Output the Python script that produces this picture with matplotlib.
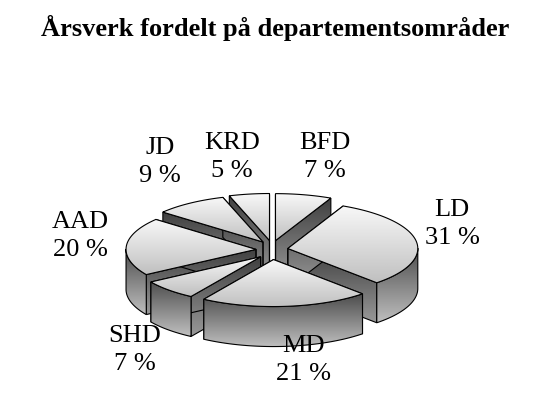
import numpy as np
import matplotlib
matplotlib.use("Agg")
import matplotlib.pyplot as plt
from matplotlib.patches import Polygon

labels = ["BFD", "LD", "MD", "SHD", "AAD", "JD", "KRD"]
values = [7, 31, 21, 7, 20, 9, 5]
label_pos = [(325, 157), (452, 224), (303, 360), (135, 350), (80, 236), (160, 162), (232, 157)]

fig = plt.figure(figsize=(5.5, 4.03), dpi=100)
ax = fig.add_axes([0, 0, 1, 1])
ax.set_xlim(0, 550); ax.set_ylim(403, 0); ax.axis("off")

cx, cy, rx, ry, depth, expl = 272, 250, 130, 47, 40, 16
tot = sum(values)
grad = np.linspace(0, 1, 256)[None, :]

def fill_grad(poly, cmap_lo, cmap_hi, horizontal=True, z=1):
    p = Polygon(poly, closed=True, facecolor="none", edgecolor="black", lw=0.8, zorder=z + 0.1)
    ax.add_patch(p)
    xs, ys = poly[:, 0], poly[:, 1]
    g = grad if horizontal else grad.T
    vals = cmap_lo + (cmap_hi - cmap_lo) * g
    im = ax.imshow(vals, cmap="gray", vmin=0, vmax=1, extent=(xs.min(), xs.max(), ys.max(), ys.min()),
                   aspect="auto", zorder=z, interpolation="bilinear")
    im.set_clip_path(p)

wedges = []
start = 90.0
for v in values:
    sweep = 360.0 * v / tot
    a0, a1 = start - sweep, start
    start = a0
    mid = np.radians((a0 + a1) / 2)
    ox, oy = cx + expl * np.cos(mid), cy - expl * 0.6 * np.sin(mid)
    wedges.append((a0, a1, ox, oy, np.sin(mid)))

order = sorted(range(len(values)), key=lambda i: wedges[i][4], reverse=True)
for k, i in enumerate(order):
    a0, a1, ox, oy, _ = wedges[i]
    t = np.radians(np.linspace(a0, a1, 60))
    arc = np.column_stack([ox + rx * np.cos(t), oy - ry * np.sin(t)])
    z = 2 + k * 3
    for a in (a0, a1):
        e = np.array([ox + rx * np.cos(np.radians(a)), oy - ry * np.sin(np.radians(a))])
        side = np.array([[ox, oy], e, e + [0, depth], [ox, oy + depth]])
        fill_grad(side, 0.25, 0.6, horizontal=False, z=z)
    tf = t[np.sin(t) <= 0.02]
    if len(tf) > 1:
        top = np.column_stack([ox + rx * np.cos(tf), oy - ry * np.sin(tf)])
        wall = np.vstack([top, top[::-1] + [0, depth]])
        fill_grad(wall, 0.3, 0.75, horizontal=False, z=z + 1)
    face = np.vstack([[ox, oy], arc])
    fill_grad(face, 0.97, 0.75, horizontal=False, z=z + 2)

for (lx, ly), lab, v in zip(label_pos, labels, values):
    ax.text(lx, ly, f"{lab}\n{v} %", ha="center", va="center", fontsize=19,
            family="Liberation Serif", linespacing=1.3, zorder=50)

ax.text(275, 28, "Årsverk fordelt på departementsområder", ha="center", va="center",
        fontsize=19, fontweight="bold", family="Liberation Serif")

fig.savefig("out.png", dpi=100)
